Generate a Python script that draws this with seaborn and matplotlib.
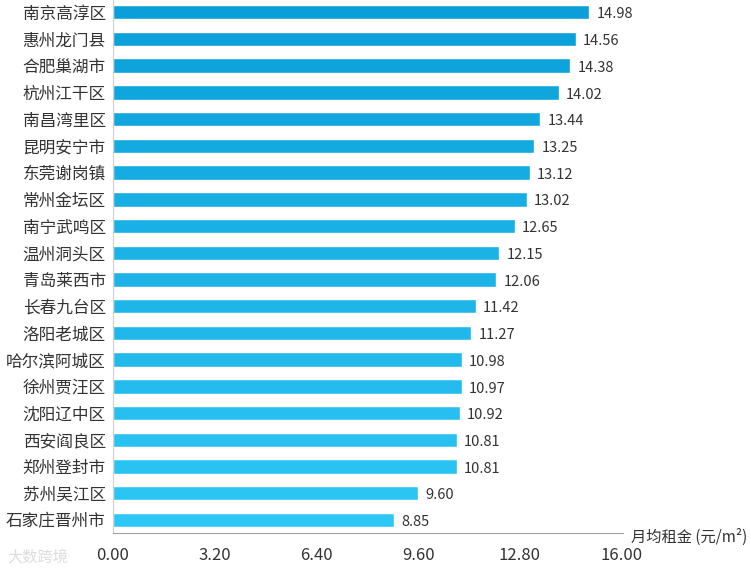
import matplotlib
matplotlib.use("Agg")
import matplotlib.pyplot as plt
import pandas as pd
import seaborn as sns

cities = ["南京高淳区", "惠州龙门县", "合肥巢湖市", "杭州江干区", "南昌湾里区",
          "昆明安宁市", "东莞谢岗镇", "常州金坛区", "南宁武鸣区", "温州洞头区",
          "青岛莱西市", "长春九台区", "洛阳老城区", "哈尔滨阿城区", "徐州贾汪区",
          "沈阳辽中区", "西安阎良区", "郑州登封市", "苏州吴江区", "石家庄晋州市"]
rents = [14.98, 14.56, 14.38, 14.02, 13.44, 13.25, 13.12, 13.02, 12.65, 12.15,
         12.06, 11.42, 11.27, 10.98, 10.97, 10.92, 10.81, 10.81, 9.60, 8.85]
x_ticks = [0.0, 3.2, 6.4, 9.6, 12.8, 16.0]

sns.set_style("white")
plt.rcParams["font.family"] = ["Noto Sans CJK SC", "DejaVu Sans"]

df = pd.DataFrame({"city": cities, "rent": rents})
colors = sns.blend_palette(["#0a9fd8", "#2dc7f6"], len(cities))

fig = plt.figure(figsize=(7.51, 5.68), dpi=100)
ax = fig.add_axes([0.150, 0.061, 0.678, 0.941])
sns.barplot(data=df, x="rent", y="city", hue="city", palette=colors,
            legend=False, width=0.54, saturation=1, ax=ax)

for i, v in enumerate(rents):
    ax.text(v + 0.22, i + 0.08, f"{v:.2f}", va="center", ha="left",
            fontsize=10.5, color="#333333")

ax.set_xlim(0, 16.0)
ax.set_xticks(x_ticks)
ax.set_xticklabels([f"{t:.2f}" for t in x_ticks], fontsize=12, color="#333333")
ax.tick_params(axis="y", labelsize=12, colors="#333333", length=0, pad=5)
ax.tick_params(axis="x", length=0, pad=10)
ax.set_xlabel("")
ax.set_ylabel("")
for s in ["top", "right"]:
    ax.spines[s].set_visible(False)
ax.spines["left"].set_color("#d0d0d0")
ax.spines["bottom"].set_color("#a0a0a0")
ax.spines["bottom"].set_bounds(0, 16.05)

fig.text(0.840, 0.054, "月均租金 (元/m²)", fontsize=11, color="#333333",
         ha="left", va="center")
fig.text(0.01, 0.02, "大数跨境", fontsize=11, color="#dddddd", ha="left", va="center")

fig.savefig("out.png", dpi=100)
